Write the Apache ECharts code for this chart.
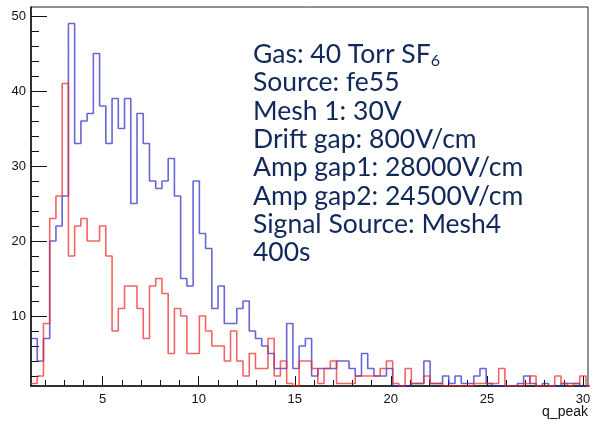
<!DOCTYPE html>
<html>
<head>
<meta charset="utf-8">
<title>q_peak</title>
<script src="https://cdn.jsdelivr.net/npm/echarts@6/dist/echarts.min.js"></script>
<style>
  html, body { margin: 0; padding: 0; background: #fff; }
  #chart { width: 603px; height: 428px; }
</style>
</head>
<body>
<div id="chart"></div>
<script>
// histogram binning (q_peak)
var binStart = 1.274;
var binWidth = 0.3245;

// counts per bin, blue histogram
var blueCounts = [
  7, 4, 7, 20, 22, 26, 49, 33, 36, 37,
  45, 38, 33, 39, 35, 39, 25, 37, 33, 28,
  27, 28, 31, 26, 15, 14, 28, 21, 19, 11,
  14, 9, 9, 11, 12, 8, 7, 6, 5, 3,
  3, 9, 3, 6, 7, 2, 3, 3, 3, 4,
  4, 3, 2, 5, 3, 2, 2, 3, 0, 0,
  0, 1, 1, 4, 1, 1, 2, 1, 2, 1,
  1, 2, 3, 1, 0, 0, 0, 0, 1, 2,
  1, 0, 1, 0, 0, 1, 1, 1, 0, 0
];
// counts per bin, red histogram
var redCounts = [
  1, 2, 9, 23, 26, 41, 18, 22, 23, 20,
  20, 22, 18, 8, 11, 14, 14, 11, 7, 14,
  15, 13, 5, 11, 10, 5, 5, 10, 8, 6,
  6, 4, 8, 4, 2, 5, 3, 3, 7, 2,
  4, 1, 0, 4, 4, 3, 1, 3, 4, 1,
  1, 1, 2, 2, 2, 2, 3, 4, 1, 0,
  3, 1, 1, 2, 1, 1, 0, 0, 0, 0,
  0, 1, 1, 1, 1, 3, 0, 0, 0, 1,
  2, 0, 0, 0, 2, 1, 0, 1, 2, 0
];

var xMin = 1.274, xMax = 30.26;
var yMin = 0.67, yMax = 51.2;
var xMajorTicks = [5, 10, 15, 20, 25, 30];
var yMajorTicks = [10, 20, 30, 40, 50];

var infoLines = [
  'Source: fe55',
  'Mesh 1: 30V',
  'Drift gap: 800V/cm',
  'Amp gap1: 28000V/cm',
  'Amp gap2: 24500V/cm',
  'Signal Source: Mesh4',
  '400s'
];

// minor ticks: every 1 on x, every 2 on y
var xMinorTicks = [];
for (var t = 2; t <= 30; t++) {
  if (t % 5 !== 0) xMinorTicks.push(t);
}
var yMinorTicks = [];
for (var u = 2; u <= 50; u += 2) {
  if (u % 10 !== 0) yMinorTicks.push(u);
}

// ROOT-like step outline, empty bins sit on the axis
function stepData(counts) {
  var pts = counts.map(function (v, i) {
    return [binStart + i * binWidth, Math.max(v, yMin)];
  });
  pts.push([binStart + counts.length * binWidth, Math.max(counts[counts.length - 1], yMin)]);
  return pts;
}

var labelFont = {fontFamily: 'Liberation Sans', fontSize: 13, color: '#111'};

var chart = echarts.init(document.getElementById('chart'));
chart.setOption({
  animation: false,
  grid: {
    left: 31, right: 15, top: 7, bottom: 42,
    show: true, borderColor: '#222', borderWidth: 1
  },
  xAxis: [
    {
      type: 'value', min: xMin, max: xMax,
      axisLine: {onZero: false, lineStyle: {color: '#111', width: 1.5}},
      axisTick: {inside: true, length: 10, customValues: xMajorTicks, lineStyle: {color: '#111'}},
      axisLabel: Object.assign({margin: 7, customValues: xMajorTicks}, labelFont),
      splitLine: {show: false}
    },
    {
      type: 'value', min: xMin, max: xMax, position: 'bottom',
      axisLine: {show: false},
      axisTick: {inside: true, length: 6, customValues: xMinorTicks, lineStyle: {color: '#111'}},
      axisLabel: {show: false},
      splitLine: {show: false}
    }
  ],
  yAxis: [
    {
      type: 'value', min: yMin, max: yMax,
      axisLine: {show: true, onZero: false, lineStyle: {color: '#111', width: 1.5}},
      axisTick: {show: true, inside: true, length: 16, customValues: yMajorTicks, lineStyle: {color: '#111'}},
      axisLabel: Object.assign({margin: 5, customValues: yMajorTicks}, labelFont),
      splitLine: {show: false}
    },
    {
      type: 'value', min: yMin, max: yMax, position: 'left',
      axisLine: {show: false},
      axisTick: {show: true, inside: true, length: 8, customValues: yMinorTicks, lineStyle: {color: '#111'}},
      axisLabel: {show: false},
      splitLine: {show: false}
    }
  ],
  series: [
    {
      name: 'blue', type: 'line', step: 'end', showSymbol: false, clip: true,
      data: stepData(blueCounts),
      lineStyle: {color: 'rgba(45,45,200,0.72)', width: 1.6}
    },
    {
      name: 'red', type: 'line', step: 'end', showSymbol: false, clip: true,
      data: stepData(redCounts),
      lineStyle: {color: 'rgba(240,40,40,0.72)', width: 1.6}
    }
  ],
  graphic: [
    {
      type: 'text', right: 15, top: 405,
      style: {text: 'q_peak', font: '14px "Liberation Sans"', fill: '#111'}
    },
    {
      type: 'text', left: 253, top: 41,
      style: {
        text: '{m|Gas: 40 Torr SF}{s|6}\n' + infoLines.map(function (l) { return '{m|' + l + '}'; }).join('\n'),
        fill: '#10285a',
        rich: {
          m: {fontFamily: 'Lato', fontSize: 26.5, lineHeight: 28.3, color: '#10285a'},
          s: {fontFamily: 'Lato', fontSize: 16, lineHeight: 14, verticalAlign: 'bottom', color: '#10285a'}
        }
      }
    }
  ]
});
</script>
</body>
</html>
